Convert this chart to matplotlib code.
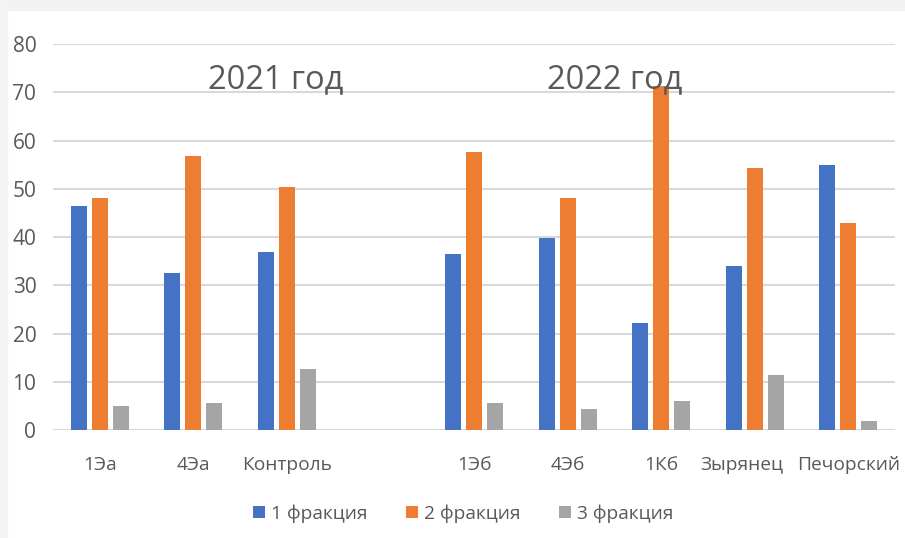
import numpy as np
import matplotlib
matplotlib.use( 'Agg' )
import matplotlib.pyplot as plt
import matplotlib.transforms as mtransforms
from matplotlib.patches import Rectangle

plt.rcParams['font.family'] = ['Open Sans', 'DejaVu Sans']

# --- data (empty slot separates 2021 and 2022) ---
categories = ['1Эа', '4Эа', 'Контроль', '', '1Эб', '4Эб', '1Кб', 'Зырянец', 'Печорский']
frac1 = [46.5, 32.6, 37.0, np.nan, 36.5, 39.9, 22.1, 33.9, 54.9]
frac2 = [48.1, 56.9, 50.4, np.nan, 57.6, 48.1, 71.3, 54.3, 43.0]
frac3 = [5.0, 5.5, 12.6, np.nan, 5.5, 4.3, 6.0, 11.5, 1.9]
series_names = ['1 фракция', '2 фракция', '3 фракция']
year_labels = ['2021 год', '2022 год']
yticks = [0, 10, 20, 30, 40, 50, 60, 70, 80]

colors = ['#4472C4', '#ED7D31', '#A5A5A5']
txt_color = '#595959'

fig = plt.figure( figsize=(9.05, 5.38), dpi=100 )
# light frame strip at top/left like the screenshot
fig.patches.append( Rectangle( (0, 0.982), 1, 0.018, transform=fig.transFigure, color='#f2f2f2', zorder=0 ) )
fig.patches.append( Rectangle( (0, 0), 0.008, 1, transform=fig.transFigure, color='#f4f4f4', zorder=0 ) )

ax = fig.add_axes( [0.0586, 0.2007, 0.9304, 0.7173] )

x = np.arange( len(categories) )
bw = 0.172
step = 0.224
for i, vals in enumerate( [frac1, frac2, frac3] ):
	ax.bar( x + (i - 1) * step, vals, width=bw, color=colors[i], label=series_names[i], zorder=3 )

ax.set_xlim( -0.5, len(categories) - 0.5 )
ax.set_ylim( 0, 80 )
ax.set_yticks( yticks )
ax.set_xticks( x )
ax.set_xticklabels( categories )
ax.tick_params( axis='x', length=0, labelsize=13.8, colors=txt_color, pad=19 )
ax.tick_params( axis='y', length=0, labelsize=15, colors=txt_color, pad=12 )

# Excel nudged 'Зырянец' left to keep it clear of 'Печорский'
xlbls = ax.get_xticklabels()
xlbls[7].set_transform( xlbls[7].get_transform() + mtransforms.ScaledTranslation( -0.13, 0, fig.dpi_scale_trans ) )

ax.grid( axis='y', color='#d9d9d9', linewidth=1.5, zorder=0 )
for s in ['top', 'right', 'left', 'bottom']:
	ax.spines[s].set_visible( False )

# year captions
ax.text( 1.88, 72.6, year_labels[0], fontsize=23.5, color=txt_color, ha='center', va='center' )
ax.text( 5.5, 72.6, year_labels[1], fontsize=23.5, color=txt_color, ha='center', va='center' )

fig.legend( loc='center', bbox_to_anchor=(0.512, 0.046), ncol=3, frameon=False,
	fontsize=13.8, labelcolor=txt_color, handlelength=0.6, handleheight=0.6,
	handletextpad=0.35, columnspacing=2.0 )

fig.savefig( 'out.png', dpi=100 )
